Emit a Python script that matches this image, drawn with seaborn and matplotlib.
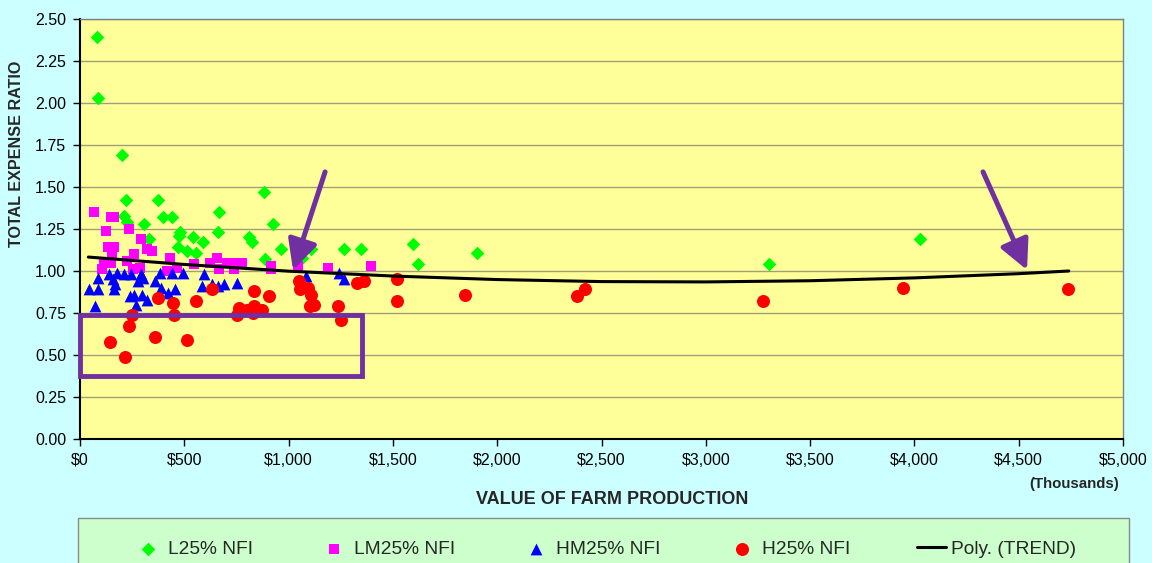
import matplotlib
matplotlib.use("Agg")
import matplotlib.pyplot as plt
import matplotlib.patches as mpatches
from matplotlib.ticker import FuncFormatter, MultipleLocator
import seaborn as sns
import pandas as pd

# ---------------- data (x in $ thousands, y = total expense ratio) ----------------
l25_x = [81, 86, 201, 221, 374, 211, 225, 398, 441, 307, 666, 662, 479, 475, 542, 590,
         470, 513, 556, 331, 810, 825, 925, 887, 964, 882, 1064, 1107, 1266, 1347, 1596,
         1620, 1903, 3303, 4027]
l25_y = [2.39, 2.03, 1.69, 1.42, 1.42, 1.33, 1.29, 1.32, 1.32, 1.28, 1.35, 1.23, 1.23,
         1.21, 1.20, 1.17, 1.14, 1.12, 1.11, 1.19, 1.20, 1.17, 1.28, 1.07, 1.13, 1.47,
         1.08, 1.13, 1.13, 1.13, 1.16, 1.04, 1.11, 1.04, 1.19]

lm25_x = [67, 149, 163, 125, 235, 292, 321, 345, 134, 163, 153, 259, 431, 115, 149, 105,
          225, 254, 288, 417, 465, 547, 623, 657, 666, 705, 743, 777, 738, 916, 916, 1045,
          1189, 1395]
lm25_y = [1.35, 1.32, 1.32, 1.24, 1.25, 1.19, 1.13, 1.12, 1.14, 1.14, 1.10, 1.10, 1.08,
          1.05, 1.05, 1.01, 1.06, 1.01, 1.02, 1.00, 1.02, 1.04, 1.05, 1.08, 1.01, 1.05,
          1.05, 1.05, 1.01, 1.03, 1.01, 1.03, 1.02, 1.03]

hm25_x = [43, 86, 72, 86, 139, 177, 211, 158, 168, 163, 245, 292, 302, 278, 360, 384,
          441, 494, 594, 585, 633, 662, 690, 753, 388, 422, 455, 240, 259, 297, 321, 268,
          1083, 1242, 1266]
hm25_y = [0.89, 0.89, 0.79, 0.96, 0.98, 0.99, 0.98, 0.95, 0.92, 0.89, 0.98, 0.98, 0.96,
          0.94, 0.94, 0.99, 0.99, 0.99, 0.98, 0.91, 0.92, 0.91, 0.92, 0.93, 0.90, 0.87,
          0.89, 0.85, 0.86, 0.86, 0.83, 0.80, 0.97, 0.99, 0.95]

h25_x = [374, 446, 556, 633, 834, 906, 249, 451, 235, 144, 360, 513, 216, 753, 762, 801,
         834, 873, 829, 1050, 1055, 1093, 1107, 1103, 1122, 1237, 1251, 1328, 1361, 1520,
         1520, 1846, 2383, 2421, 3274, 3945, 4736]
h25_y = [0.84, 0.81, 0.82, 0.89, 0.88, 0.85, 0.74, 0.74, 0.67, 0.58, 0.61, 0.59, 0.49,
         0.74, 0.78, 0.77, 0.79, 0.77, 0.75, 0.94, 0.89, 0.90, 0.86, 0.79, 0.80, 0.79,
         0.71, 0.93, 0.94, 0.95, 0.82, 0.86, 0.85, 0.89, 0.82, 0.90, 0.89]

trend_x = [40, 500, 1000, 1500, 2000, 2500, 3000, 3500, 4000, 4500, 4740]
trend_y = [1.083, 1.039, 0.999, 0.970, 0.949, 0.937, 0.935, 0.942, 0.959, 0.984, 1.000]

series_labels = ["L25% NFI", "LM25% NFI", "HM25% NFI", "H25% NFI", "Poly. (TREND)"]
x_ticks = [0, 500, 1000, 1500, 2000, 2500, 3000, 3500, 4000, 4500, 5000]

# annotation geometry (data coords)
box_x0, box_x1, box_y0, box_y1 = 0, 1352, 0.375, 0.738
arrow1 = ((1175, 1.59), (1021, 1.006))
arrow2 = ((4329, 1.59), (4540, 1.006))

# ---------------- style ----------------
sns.set_style("white")
plt.rcParams["font.family"] = ["Liberation Sans", "DejaVu Sans"]

W, H = 1152, 563
fig = plt.figure(figsize=(W / 100, H / 100), dpi=100, facecolor="#CCFFFF")
ax = fig.add_axes([80 / W, 1 - 439 / H, (1123 - 80) / W, (439 - 19) / H])
ax.set_facecolor("#FFFF99")

ax.set_xlim(0, 5000)
ax.set_ylim(0, 2.5)
ax.yaxis.set_major_locator(MultipleLocator(0.25))
ax.set_xticks(x_ticks)
ax.xaxis.set_major_formatter(FuncFormatter(lambda v, p: "${:,.0f}".format(v)))
ax.yaxis.set_major_formatter(FuncFormatter(lambda v, p: "{:.2f}".format(v)))
ax.grid(axis="y", color="#9f9f7c", lw=1.0)
ax.grid(axis="x", visible=False)
ax.set_axisbelow(True)

for s in ["left", "bottom"]:
    ax.spines[s].set_color("black")
    ax.spines[s].set_linewidth(1.5)
for s in ["top", "right"]:
    ax.spines[s].set_color("#808080")
    ax.spines[s].set_linewidth(1.0)
ax.tick_params(axis="both", direction="out", length=5, width=1, color="black",
               labelsize=11.5, labelcolor="black", pad=5, bottom=True, left=True)

purple = "#7030A0"

sns.scatterplot(x=l25_x, y=l25_y, ax=ax, marker="D", s=48, color="#00FF00",
                linewidth=0, label=series_labels[0], zorder=3)
sns.scatterplot(x=lm25_x, y=lm25_y, ax=ax, marker="s", s=42, color="#FF00FF",
                linewidth=0, label=series_labels[1], zorder=3)
sns.scatterplot(x=hm25_x, y=hm25_y, ax=ax, marker="^", s=72, color="#0000FF",
                linewidth=0, label=series_labels[2], zorder=3)
sns.scatterplot(x=h25_x, y=h25_y, ax=ax, marker="o", s=88, color="#FF0000",
                linewidth=0, label=series_labels[3], zorder=4)
sns.lineplot(x=trend_x, y=trend_y, ax=ax, color="black", lw=2.2, sort=True,
             estimator=None, label=series_labels[4], zorder=5)

# annotations
ax.add_patch(mpatches.Rectangle((box_x0, box_y0), box_x1 - box_x0, box_y1 - box_y0,
                                fill=False, ec=purple, lw=3.5, zorder=6, clip_on=False))
for (start, end) in (arrow1, arrow2):
    ax.annotate("", xy=end, xytext=start,
                arrowprops=dict(arrowstyle="-|>,head_length=0.9,head_width=0.45",
                                lw=3.6, color=purple, shrinkA=0, shrinkB=0,
                                mutation_scale=20),
                zorder=7)

# axis labels
ax.set_xlabel("")
ax.set_ylabel("")
fig.text(612 / W, 1 - 499 / H, "VALUE OF FARM PRODUCTION", ha="center", va="center",
         fontsize=13, fontweight="bold")
fig.text(1074 / W, 1 - 484 / H, "(Thousands)", ha="center", va="center",
         fontsize=10.8, fontweight="bold")
fig.text(17 / W, 1 - 154 / H, "TOTAL EXPENSE RATIO", ha="center", va="center",
         rotation=90, fontsize=11.6, fontweight="bold")

# legend box
handles, labels = ax.get_legend_handles_labels()
ax.legend_.remove()
fig.patches.append(mpatches.Rectangle((78 / W, -0.02), (1129 - 78) / W, 0.02 + (563 - 518) / H,
                                      transform=fig.transFigure, fc="#CCFFCC",
                                      ec="#8a8a8a", lw=1.0, zorder=0))
leg = fig.legend(handles, labels, ncol=5, loc="center", bbox_to_anchor=(605 / W, 14 / H),
                 frameon=False, fontsize=13.75, handlelength=1.5, handletextpad=0.3,
                 columnspacing=3.5)

fig.savefig("out.png", dpi=100, facecolor=fig.get_facecolor())
